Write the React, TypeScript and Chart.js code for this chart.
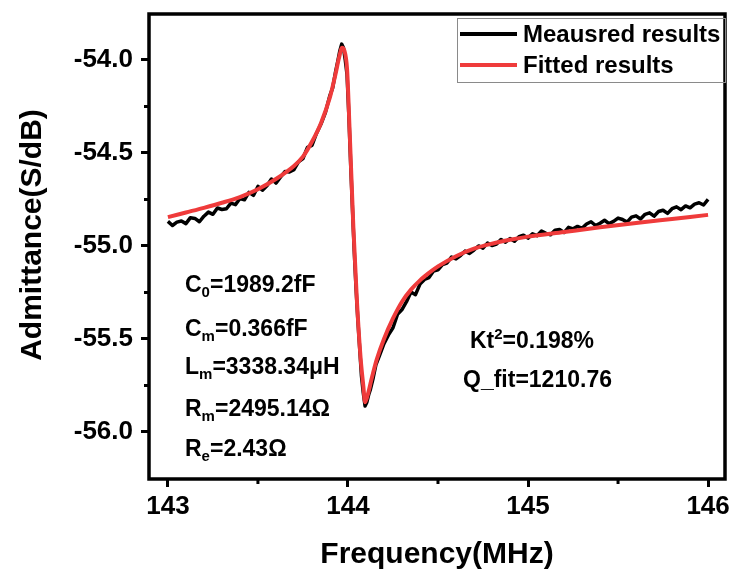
import React, { useEffect, useRef } from "react";
import { Chart, registerables } from "chart.js";

Chart.register(...registerables);

// ---- data ----
const fitFreq = [
  143.0, 143.1, 143.2, 143.3, 143.4, 143.5, 143.6, 143.7, 143.75, 143.8, 143.85, 143.9, 143.93, 143.95,
  143.967, 143.98, 143.995, 144.01, 144.03, 144.05, 144.07, 144.085, 144.095, 144.11, 144.13, 144.16,
  144.2, 144.25, 144.3, 144.35, 144.4, 144.45, 144.5, 144.6, 144.7, 144.8, 144.9, 145.0, 145.2, 145.4,
  145.6, 145.8, 146.0,
];
const fitVal = [
  -54.845, -54.82, -54.795, -54.768, -54.737, -54.695, -54.64, -54.57, -54.52, -54.44, -54.34, -54.2,
  -54.08, -53.99, -53.935, -53.95, -54.05, -54.4, -54.9, -55.3, -55.6, -55.75, -55.84, -55.8, -55.72,
  -55.61, -55.5, -55.39, -55.3, -55.235, -55.185, -55.145, -55.11, -55.055, -55.015, -54.988, -54.967,
  -54.95, -54.925, -54.9, -54.877, -54.855, -54.833,
];

const measFreq = [
  143.0, 143.025, 143.05, 143.075, 143.1, 143.125, 143.15, 143.175, 143.2, 143.225, 143.25, 143.275,
  143.3, 143.325, 143.35, 143.375, 143.4, 143.425, 143.45, 143.475, 143.5, 143.525, 143.55, 143.575,
  143.6, 143.625, 143.65, 143.675, 143.7, 143.725, 143.75, 143.775, 143.8, 143.825, 143.85, 143.875,
  143.9, 143.915, 143.93, 143.945, 143.955, 143.965, 143.975, 143.985, 143.995, 144.005, 144.015,
  144.025, 144.035, 144.045, 144.055, 144.065, 144.075, 144.085, 144.095, 144.105, 144.115, 144.125,
  144.14, 144.155, 144.175, 144.2, 144.225, 144.25, 144.275, 144.3, 144.325, 144.35, 144.375, 144.4,
  144.425, 144.45, 144.475, 144.5, 144.525, 144.55, 144.575, 144.6, 144.625, 144.65, 144.675, 144.7,
  144.725, 144.75, 144.775, 144.8, 144.825, 144.85, 144.875, 144.9, 144.925, 144.95, 144.975, 145.0,
  145.025, 145.05, 145.075, 145.1, 145.125, 145.15, 145.175, 145.2, 145.225, 145.25, 145.275, 145.3,
  145.325, 145.35, 145.375, 145.4, 145.425, 145.45, 145.475, 145.5, 145.525, 145.55, 145.575, 145.6,
  145.625, 145.65, 145.675, 145.7, 145.725, 145.75, 145.775, 145.8, 145.825, 145.85, 145.875, 145.9,
  145.925, 145.95, 145.975, 146.0,
];
const measVal = [
  -54.868, -54.89, -54.872, -54.866, -54.88, -54.848, -54.852, -54.87, -54.84, -54.818, -54.83, -54.796,
  -54.804, -54.8, -54.77, -54.778, -54.745, -54.752, -54.712, -54.728, -54.68, -54.7, -54.676, -54.64,
  -54.662, -54.63, -54.6, -54.602, -54.59, -54.548, -54.53, -54.47, -54.46, -54.395, -54.345, -54.282,
  -54.19, -54.15, -54.07, -54.0, -53.95, -53.915, -53.935, -54.0, -54.08, -54.3, -54.56, -54.8,
  -55.03, -55.23, -55.4, -55.55, -55.7, -55.79, -55.86, -55.84, -55.8, -55.77, -55.71, -55.64, -55.59,
  -55.525, -55.478, -55.44, -55.368, -55.342, -55.3, -55.248, -55.262, -55.205, -55.18, -55.17, -55.135,
  -55.128, -55.1, -55.092, -55.06, -55.07, -55.052, -55.028, -55.04, -55.022, -55.0, -55.012, -54.985,
  -54.998, -54.99, -54.965, -54.98, -54.96, -54.975, -54.95, -54.942, -54.958, -54.935, -54.945, -54.92,
  -54.932, -54.94, -54.915, -54.912, -54.928, -54.9, -54.908, -54.895, -54.905, -54.882, -54.87, -54.89,
  -54.878, -54.862, -54.88, -54.868, -54.85, -54.858, -54.872, -54.845, -54.838, -54.855, -54.83, -54.822,
  -54.84, -54.815, -54.808, -54.825, -54.8, -54.79, -54.805, -54.785, -54.795, -54.775, -54.768, -54.78,
  -54.75,
];

const xTicks = [143, 144, 145, 146];
const xMinorTicks = [143.5, 144.5, 145.5];
const yTicks = [-54.0, -54.5, -55.0, -55.5, -56.0];
const yMinorTicks = [-54.25, -54.75, -55.25, -55.75];

const seriesNames = ["Meausred results", "Fitted results"];
const seriesColors = ["#000000", "#ef3b3b"];

const xTitle = "Frequency(MHz)";
const yTitle = "Admittance(S/dB)";

// rich text lines: [main, subscript/superscript, rest]
const leftParams: [string, string, string][] = [
  ["C", "0", "=1989.2fF"],
  ["C", "m", "=0.366fF"],
  ["L", "m", "=3338.34\u03bcH"],
  ["R", "m", "=2495.14\u03a9"],
  ["R", "e", "=2.43\u03a9"],
];
const rightParams: [string, string, string][] = [
  ["Kt", "2", "=0.198%"],
  ["Q_fit=1210.76", "", ""],
];

const FONT = "'Liberation Sans', Arial, sans-serif";

export default function App() {
  const ref = useRef<HTMLCanvasElement | null>(null);

  useEffect(() => {
    if (!ref.current) return;

    const overlay = {
      id: "overlay",
      afterDraw(chart: any) {
        const { ctx, chartArea } = chart;
        const { left, top, right, bottom } = chartArea;
        const xs = chart.scales.x;
        const ys = chart.scales.y;
        ctx.save();
        // frame
        ctx.strokeStyle = "#000";
        ctx.lineWidth = 3.5;
        ctx.strokeRect(left, top, right - left, bottom - top);
        // minor ticks
        ctx.lineWidth = 3;
        ctx.beginPath();
        xMinorTicks.forEach((v) => {
          const px = xs.getPixelForValue(v);
          ctx.moveTo(px, bottom);
          ctx.lineTo(px, bottom + 5);
        });
        yMinorTicks.forEach((v) => {
          const py = ys.getPixelForValue(v);
          ctx.moveTo(left, py);
          ctx.lineTo(left - 5, py);
        });
        ctx.stroke();

        // legend
        const lx = 457, ly = 18, lw = right - 457, lh = 64;
        ctx.lineWidth = 1;
        ctx.strokeStyle = "#8a8a8a";
        ctx.strokeRect(lx + 0.5, ly + 0.5, lw, lh);
        const rows = [34, 65];
        seriesNames.forEach((name, i) => {
          ctx.strokeStyle = seriesColors[i];
          ctx.lineWidth = 4;
          ctx.beginPath();
          ctx.moveTo(460, rows[i]);
          ctx.lineTo(517, rows[i]);
          ctx.stroke();
          ctx.fillStyle = "#000";
          ctx.font = `bold 24px ${FONT}`;
          ctx.textAlign = "left";
          ctx.textBaseline = "alphabetic";
          ctx.fillText(name, 523, rows[i] + 8);
        });

        // annotations
        const drawRich = (x: number, y: number, p: [string, string, string], sup: boolean) => {
          ctx.fillStyle = "#000";
          ctx.textAlign = "left";
          ctx.textBaseline = "alphabetic";
          ctx.font = `bold 23px ${FONT}`;
          ctx.fillText(p[0], x, y);
          let cx = x + ctx.measureText(p[0]).width;
          if (p[1]) {
            ctx.font = `bold 15px ${FONT}`;
            ctx.fillText(p[1], cx, sup ? y - 9 : y + 5);
            cx += ctx.measureText(p[1]).width;
          }
          ctx.font = `bold 23px ${FONT}`;
          ctx.fillText(p[2], cx, y);
        };
        const leftRows = [292, 336, 374, 416, 456];
        leftParams.forEach((p, i) => drawRich(185, leftRows[i], p, false));
        const rightRows = [348, 387];
        rightParams.forEach((p, i) => drawRich(i === 0 ? 470 : 463, rightRows[i], p, true));

        // axis titles
        ctx.font = `bold 30px ${FONT}`;
        ctx.fillStyle = "#000";
        ctx.textAlign = "center";
        ctx.textBaseline = "alphabetic";
        ctx.fillText(xTitle, (left + right) / 2, 563);
        ctx.save();
        ctx.translate(41, 235);
        ctx.rotate(-Math.PI / 2);
        ctx.fillText(yTitle, 0, 0);
        ctx.restore();
        ctx.restore();
      },
    };

    const chart = new Chart(ref.current, {
      type: "line",
      data: {
        datasets: [
          {
            label: seriesNames[0],
            data: measFreq.map((x, i) => ({ x, y: measVal[i] })),
            borderColor: seriesColors[0],
            borderWidth: 3.5,
            borderJoinStyle: "round",
            pointRadius: 0,
            tension: 0,
            order: 1,
          },
          {
            label: seriesNames[1],
            data: fitFreq.map((x, i) => ({ x, y: fitVal[i] })),
            borderColor: seriesColors[1],
            borderWidth: 4,
            pointRadius: 0,
            cubicInterpolationMode: "monotone",
            order: 0,
          },
        ],
      },
      options: {
        responsive: false,
        animation: false,
        layout: { padding: { left: 0, right: 7, top: 14, bottom: 0 } },
        plugins: { legend: { display: false }, tooltip: { enabled: false } },
        scales: {
          x: {
            type: "linear",
            min: 142.895,
            max: 146.094,
            afterBuildTicks: (s: any) => {
              s.ticks = xTicks.map((v) => ({ value: v }));
            },
            afterFit: (s: any) => {
              s.height = 95;
              s.paddingLeft = 0;
              s.paddingRight = 0;
            },
            border: { display: false },
            grid: { drawOnChartArea: false, color: "#000", lineWidth: 3, tickLength: 8 },
            ticks: {
              color: "#000",
              font: { family: FONT, size: 26, weight: "bold" },
              padding: 4,
              maxRotation: 0,
              callback: (v: any) => String(v),
            },
          },
          y: {
            type: "linear",
            min: -56.253,
            max: -53.753,
            afterBuildTicks: (s: any) => {
              s.ticks = yTicks.map((v) => ({ value: v }));
            },
            afterFit: (s: any) => {
              s.width = 149;
              s.paddingTop = 0;
              s.paddingBottom = 0;
            },
            border: { display: false },
            grid: { drawOnChartArea: false, color: "#000", lineWidth: 3, tickLength: 8 },
            ticks: {
              color: "#000",
              font: { family: FONT, size: 26, weight: "bold" },
              padding: 8,
              callback: (v: any) => Number(v).toFixed(1),
            },
          },
        },
      },
      plugins: [overlay],
    } as any);

    return () => chart.destroy();
  }, []);

  return (
    <div style={{ position: "fixed", left: 0, top: 0, width: 732, height: 574, background: "#fff" }}>
      <canvas ref={ref} width={732} height={574} style={{ display: "block" }} />
    </div>
  );
}
